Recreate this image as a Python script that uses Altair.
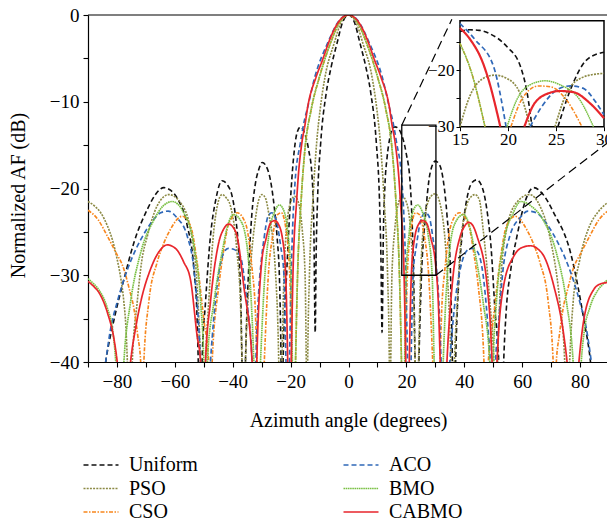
import altair as alt
import pandas as pd

# ---------------- data ----------------
METHODS = ["Uniform", "PSO", "CSO", "ACO", "BMO", "CABMO"]

UNIFORM = [
    (-88, -52), (-83.9, -40), (-81.0, -35.1), (-77.6, -30.5), (-74.1, -26.2), (-69.5, -22.4),
    (-66.5, -20.6), (-63.8, -19.9), (-61.5, -20.2), (-59.2, -21.1), (-55.7, -24.3), (-53.4, -29.3),
    (-52.3, -35.1), (-51.9, -40), (-51.2, -50),
    (-50.6, -40), (-49.4, -33.1), (-47.7, -25.5), (-45.8, -21.2), (-43.7, -19.1), (-41.8, -19.6),
    (-40.2, -20.9), (-38.9, -23.6), (-37.9, -27.4), (-37.2, -33.0), (-36.8, -40), (-36.2, -50),
    (-35.6, -40), (-34.5, -29.3), (-33.4, -23.0), (-32.2, -19.5), (-31.0, -17.8), (-29.8, -17.0),
    (-28.5, -17.4), (-27.0, -19.0), (-25.7, -22.0), (-24.7, -25.5), (-23.8, -31.0), (-23.3, -40), (-23.0, -50),
    (-22.6, -40), (-21.3, -29.3), (-20.1, -21.6), (-19.0, -16.5), (-17.8, -13.6), (-16.6, -12.9),
    (-15.3, -13.5), (-13.8, -15.5), (-12.6, -18.6), (-12.0, -24.0), (-11.5, -36.6),
    (-11.2, -28.0), (-10.7, -21.3), (-9.6, -14.7), (-7.7, -9.0), (-6.0, -6.0), (-4.0, -3.3), (-2.0, -0.8),
    (0, 0),
    (2.0, -0.8), (4.0, -3.3), (6.0, -6.0), (7.7, -9.0), (9.6, -14.7), (10.7, -21.3), (11.2, -28.0),
    (11.6, -36.6), (12.0, -26.0), (12.6, -19.5), (13.3, -16.5), (14.2, -14.3), (15.0, -13.2), (16.0, -12.9),
    (17.0, -13.0), (18.1, -13.6), (19.9, -15.9), (21.3, -19.4), (22.0, -24.1), (22.5, -30.0), (23.0, -40), (23.6, -50),
    (24.3, -40), (25.2, -30.0), (26.5, -23.5), (28.2, -18.2), (30.0, -16.85), (31.5, -17.3), (32.8, -19.2),
    (34.0, -23.0), (35.2, -29.5), (35.9, -40), (36.4, -50),
    (37.0, -40), (38.2, -30.0), (39.5, -24.5), (41.0, -21.0), (42.5, -19.4), (44.2, -19.0), (46.0, -19.7),
    (47.6, -22.0), (49.3, -27.0), (50.6, -34.0), (51.9, -40), (52.8, -50),
    (53.6, -40), (54.5, -34.0), (56.0, -29.5), (58.2, -25.5), (61.0, -21.5), (64.0, -19.9), (67.0, -20.6),
    (70.9, -22.8), (76.7, -27.4), (81.3, -35.1), (83.6, -40), (86.0, -50),
]

PSO = [
    (-90, -21.5), (-87.8, -22.0), (-85.6, -22.8), (-83.3, -24.3), (-81.5, -26.0), (-79.9, -28.2),
    (-78.6, -30.5), (-77.6, -33.1), (-76.9, -36.0), (-76.4, -40), (-75.5, -50),
    (-74.7, -40), (-73.0, -33.1), (-71.5, -28.5), (-69.5, -25.5), (-66.1, -22.0), (-62.1, -20.7),
    (-58.0, -21.65), (-54.6, -24.7), (-52.3, -31.2), (-51.1, -40), (-50.3, -50),
    (-49.4, -40), (-48.3, -33.1), (-46.5, -24.7), (-45.2, -21.8), (-43.7, -20.7), (-42.2, -21.1),
    (-40.8, -22.0), (-38.5, -27.4), (-37.3, -33.5), (-36.8, -40), (-36.2, -50),
    (-35.6, -40), (-33.9, -29.3), (-32.2, -23.6), (-31.0, -21.3), (-29.9, -20.7), (-28.7, -21.1),
    (-27.6, -22.8), (-25.3, -29.3), (-24.1, -40), (-23.6, -50),
    (-23.0, -40), (-22.3, -30.0), (-21.25, -24.1), (-19.9, -21.5), (-18.6, -20.9), (-17.4, -21.5),
    (-16.0, -24.7), (-15.0, -30.0), (-14.6, -40), (-14.35, -50),
    (-14.1, -40), (-13.5, -30.0), (-12.3, -21.3), (-11.0, -14.7), (-9.8, -10.9), (-8.1, -7.1),
    (-5.0, -3.3), (-2.5, -0.8), (0, 0),
    (2.5, -0.8), (5.0, -3.3), (8.1, -7.1), (9.8, -10.9), (11.0, -14.7), (12.3, -21.3), (13.5, -30.0),
    (14.1, -40), (14.35, -50), (14.6, -40), (15.0, -30.0), (16.0, -24.7), (17.4, -21.5), (18.6, -20.9),
    (19.9, -21.5), (21.25, -24.1), (22.3, -30.0), (23.0, -40), (23.6, -50),
    (24.2, -40), (24.9, -30.0), (26.5, -22.9), (28.5, -20.9), (30.0, -20.6), (32.0, -22.3), (33.9, -28.5),
    (35.0, -36.0), (35.4, -40), (35.9, -50),
    (36.6, -40), (37.6, -33.0), (38.5, -27.4), (40.8, -22.0), (42.2, -21.0), (43.7, -20.7), (45.2, -21.3),
    (46.5, -24.7), (48.8, -33.0), (50.2, -40), (50.8, -50),
    (51.5, -40), (52.5, -31.2), (54.6, -24.7), (58.0, -21.65), (62.5, -20.7), (66.1, -22.0), (69.5, -25.5),
    (73.0, -33.1), (74.7, -40), (75.5, -50),
    (76.4, -40), (77.6, -33.1), (79.9, -28.2), (83.3, -24.3), (86.0, -22.8), (88.5, -21.9), (90, -21.5),
]

CSO = [
    (-90, -22.5), (-86.5, -23.6), (-83.3, -25.5), (-80.5, -27.3), (-77.6, -29.3), (-75.8, -31.5),
    (-74.1, -33.9), (-72.8, -37.0), (-71.8, -40), (-71.2, -50),
    (-70.7, -40), (-69.0, -33.1), (-66.1, -28.5), (-63.8, -26.3), (-61.5, -24.7), (-57.5, -23.2),
    (-54.6, -24.3), (-52.3, -28.5), (-50.0, -35.1), (-48.3, -40), (-47.7, -50),
    (-47.1, -40), (-44.8, -31.2), (-43.3, -27.5), (-41.9, -24.7), (-40.2, -23.3), (-38.5, -22.8),
    (-35.6, -24.0), (-33.3, -29.3), (-32.2, -34.0), (-31.6, -40), (-30.4, -50),
    (-29.1, -40), (-28.6, -36.0), (-27.7, -30.0), (-26.1, -25.3), (-24.5, -23.0), (-23.2, -22.8),
    (-21.6, -24.7), (-20.3, -30.0), (-19.6, -40), (-18.95, -50),
    (-18.3, -40), (-17.6, -30.0), (-16.3, -21.0), (-15.0, -15.3), (-12.9, -10.9), (-10.0, -7.1),
    (-6.3, -3.3), (-3.0, -0.8), (0, 0),
    (3.0, -0.8), (6.3, -3.3), (10.0, -7.1), (12.9, -10.9), (15.0, -15.3), (16.3, -21.0), (17.6, -30.0),
    (18.3, -40), (18.95, -50), (19.6, -40), (20.3, -30.0), (21.6, -24.7), (23.2, -22.8), (24.5, -23.0),
    (26.1, -25.3), (27.7, -30.0), (28.6, -36.0), (29.1, -40), (30.4, -50),
    (31.6, -40), (32.2, -34.0), (33.3, -29.3), (35.6, -24.0), (38.3, -22.8), (40.2, -23.3), (41.9, -24.7),
    (43.3, -27.5), (44.8, -31.2), (46.8, -40), (47.5, -50),
    (48.3, -40), (50.0, -35.1), (52.3, -28.5), (54.6, -24.3), (57.5, -23.2), (61.5, -24.7), (63.8, -26.3),
    (66.1, -28.5), (69.0, -33.1), (70.7, -40), (71.2, -50),
    (71.8, -40), (72.8, -37.0), (74.1, -33.9), (75.8, -31.5), (77.6, -29.3), (80.5, -27.3), (83.3, -25.5),
    (86.5, -23.6), (90, -22.5),
]

ACO = [
    (-88, -52), (-83.9, -40), (-82.2, -36.2), (-80.0, -33.2), (-77.6, -30.5), (-74.8, -28.0),
    (-71.8, -25.9), (-68.5, -24.1), (-64.9, -22.8), (-62.3, -22.6), (-59.2, -23.4), (-55.7, -25.5),
    (-53.4, -29.3), (-51.7, -36.2), (-51.1, -40), (-49.4, -50),
    (-47.7, -40), (-45.4, -31.2), (-43.1, -27.4), (-41.5, -26.9), (-39.7, -27.0), (-37.4, -27.8),
    (-35.1, -33.1), (-33.3, -40), (-32.6, -50),
    (-32.0, -40), (-31.2, -33.0), (-30.0, -27.9), (-29.2, -25.8), (-27.8, -23.2), (-26.5, -22.8),
    (-25.1, -23.5), (-23.5, -26.5), (-22.3, -30.0), (-21.6, -40), (-21.0, -50),
    (-20.4, -40), (-19.8, -30.0), (-18.5, -19.4), (-16.6, -14.7), (-15.0, -11.8), (-14.3, -10.9),
    (-11.6, -7.1), (-7.3, -3.3), (-3.0, -0.55), (0, 0),
    (3.0, -0.55), (7.3, -3.3), (11.6, -7.1), (14.3, -10.9), (15.0, -11.8), (16.6, -14.7), (18.5, -19.4),
    (19.8, -30.0), (20.4, -40), (21.0, -50), (21.6, -40), (22.3, -30.0), (23.5, -26.5), (25.1, -23.5),
    (26.5, -22.8), (27.8, -23.2), (29.2, -25.8), (30.0, -27.9), (31.2, -33.0), (32.0, -40), (33.5, -50),
    (35.0, -40), (36.5, -34.0), (38.6, -29.3), (41.5, -27.0), (43.0, -26.9), (44.4, -27.2), (46.7, -30.5),
    (48.4, -37.0), (49.0, -40), (50.0, -50),
    (50.8, -40), (51.7, -36.2), (53.4, -29.3), (55.7, -25.5), (59.2, -23.4), (62.0, -22.6), (64.9, -22.8),
    (68.5, -24.1), (71.8, -25.9), (74.8, -28.0), (77.6, -30.5), (80.0, -33.2), (82.2, -36.2), (83.9, -40),
    (88, -52),
]

BMO = [
    (-90, -30.4), (-88.0, -31.0), (-86.2, -31.7), (-83.3, -33.8), (-81.5, -36.3), (-80.4, -40), (-79.0, -50),
    (-77.6, -40), (-75.3, -33.1), (-71.8, -27.4), (-67.2, -23.6), (-64.0, -22.0), (-60.9, -21.5),
    (-56.9, -22.8), (-53.4, -26.6), (-51.1, -33.1), (-50.0, -40), (-49.4, -50),
    (-48.8, -40), (-46.5, -33.1), (-43.7, -27.4), (-41.5, -24.0), (-39.7, -23.0), (-36.8, -24.0),
    (-34.5, -28.5), (-33.3, -35.0), (-32.7, -40), (-31.5, -50),
    (-30.4, -40), (-28.9, -30.0), (-27.5, -25.3), (-25.4, -22.6), (-23.9, -21.9), (-22.3, -22.6),
    (-20.9, -25.3), (-19.9, -30.0), (-19.4, -40), (-18.8, -50),
    (-18.3, -40), (-17.6, -30.0), (-16.3, -21.0), (-15.0, -15.3), (-12.9, -10.9), (-10.0, -7.1),
    (-6.3, -3.3), (-3.0, -0.8), (0, 0),
    (3.0, -0.8), (6.3, -3.3), (10.0, -7.1), (12.9, -10.9), (15.0, -15.3), (16.3, -21.0), (17.6, -30.0),
    (18.3, -40), (18.8, -50), (19.4, -40), (19.9, -30.0), (20.9, -25.3), (22.3, -22.6), (23.9, -21.9),
    (25.4, -22.6), (27.5, -25.3), (28.9, -30.0), (29.6, -40), (31.2, -50),
    (32.7, -40), (33.3, -35.0), (34.5, -28.5), (36.8, -24.0), (39.7, -23.0), (41.5, -24.0), (43.7, -27.4),
    (46.5, -33.1), (48.8, -40), (49.4, -50),
    (50.0, -40), (51.1, -33.1), (53.4, -26.6), (56.9, -22.8), (59.5, -21.5), (63.0, -22.0), (67.2, -23.6),
    (71.8, -27.4), (75.3, -33.1), (77.6, -40), (79.0, -50),
    (80.4, -40), (81.5, -36.3), (83.3, -33.8), (86.2, -31.7), (88.0, -31.0), (90, -30.4),
]

CABMO = [
    (-90, -30.7), (-88.0, -31.3), (-86.2, -32.0), (-83.3, -34.3), (-81.0, -37.4), (-79.9, -40), (-77.6, -50),
    (-75.3, -40), (-73.5, -36.0), (-71.8, -33.1), (-68.4, -29.3), (-65.5, -27.3), (-62.6, -26.5),
    (-59.5, -27.0), (-56.9, -28.5), (-54.6, -30.5), (-52.3, -37.0), (-51.1, -40), (-50.2, -50),
    (-49.4, -40), (-47.7, -33.1), (-44.8, -26.2), (-43.0, -24.6), (-41.4, -24.1), (-39.8, -24.5),
    (-38.5, -25.5), (-36.2, -31.2), (-33.3, -40), (-32.4, -50),
    (-31.7, -40), (-30.0, -28.5), (-28.5, -25.8), (-26.8, -23.9), (-25.4, -23.7), (-24.4, -24.0),
    (-22.8, -25.8), (-21.7, -30.0), (-21.0, -40), (-20.5, -50),
    (-19.8, -40), (-19.2, -30.0), (-17.9, -21.3), (-17.4, -18.8), (-16.1, -14.7), (-15.0, -12.6),
    (-14.25, -10.9), (-11.15, -7.1), (-9.0, -5.2), (-7.0, -3.3), (-5.0, -1.7), (-3.0, -0.6), (0, 0),
    (3.0, -0.6), (5.0, -1.7), (7.0, -3.3), (9.0, -5.2), (11.15, -7.1), (14.25, -10.9), (15.0, -12.6),
    (16.1, -14.7), (17.4, -18.8), (17.9, -21.3), (19.2, -30.0), (19.8, -40), (20.5, -50),
    (21.0, -40), (21.7, -30.0), (22.8, -25.8), (24.4, -24.0), (25.4, -23.7), (26.8, -23.9), (28.5, -25.8),
    (30.0, -28.5), (31.0, -33.0), (31.7, -40), (32.8, -50),
    (34.0, -40), (35.8, -31.2), (38.6, -25.5), (40.0, -24.4), (41.5, -23.9), (43.0, -24.3), (44.4, -25.5),
    (47.9, -31.2), (49.6, -40), (50.5, -50),
    (51.3, -40), (53.6, -31.2), (57.1, -27.8), (60.0, -26.8), (62.9, -26.6), (65.5, -27.0), (67.5, -27.8),
    (70.9, -31.2), (74.4, -37.0), (75.5, -40), (77.5, -50),
    (79.6, -40), (81.3, -35.1), (84.8, -31.6), (87.0, -31.0), (89.4, -30.8), (90, -30.7),
]

SERIES = {"Uniform": UNIFORM, "PSO": PSO, "CSO": CSO, "ACO": ACO, "BMO": BMO, "CABMO": CABMO}

# axis ticks / ranges
X_DOMAIN = [-90, 89.3]
Y_DOMAIN = [-40, 0]
X_TICKS = list(range(-90, 90, 10))
Y_TICKS = list(range(-40, 1, 5))
INSET_X = [15, 30]
INSET_Y = [-30, -11.3]
INSET_X_TICKS = [15, 20, 25, 30]
INSET_Y_TICKS = [-30, -25, -20, -15]
ZOOM_BOX_X = [18.4, 30.2]
ZOOM_BOX_Y = [-30, -12.7]
CONNECT_FROM = [(18.4, -12.7), (30.2, -30.0)]
CONNECT_TO = [(35.7, -0.5), (89.2, -14.8)]

# ---------------- styling ----------------
COLORS = {"Uniform": "#111111", "PSO": "#8c8a45", "CSO": "#f7861d",
          "ACO": "#2f68b8", "BMO": "#79c043", "CABMO": "#e8262c"}
DASHES = {"Uniform": [5, 3], "PSO": [2, 1.2], "CSO": [4, 1.5, 1.5, 1.5],
          "ACO": [5, 3], "BMO": [1.6, 0.6], "CABMO": [1, 0]}
WIDTHS = {"Uniform": 1.6, "PSO": 1.7, "CSO": 1.5, "ACO": 1.7, "BMO": 1.5, "CABMO": 2.2}

FONT = "Liberation Serif"
PLOT_W, PLOT_H = 519, 347
INSET_PX = [372, 516]
INSET_PY = [111.7, 5.7]

rows = []
for m in METHODS:
    for d, v in SERIES[m]:
        rows.append({"method": m, "deg": d, "db": v})
df = pd.DataFrame(rows)

# inset data: keep the part inside the inset window, split into segments
irows = []
for m in METHODS:
    seg = 0
    inside_prev = False
    for d, v in SERIES[m]:
        inside = INSET_X[0] <= d <= INSET_X[1] and v >= INSET_Y[0]
        if inside:
            if not inside_prev:
                seg += 1
            irows.append({"method": m, "deg": d, "db": v, "seg": seg})
        inside_prev = inside
dfi = pd.DataFrame(irows)

xs = alt.Scale(domain=X_DOMAIN, nice=False, zero=False)
ys = alt.Scale(domain=Y_DOMAIN, nice=False, zero=False)

x_axis = alt.Axis(values=X_TICKS, orient="bottom",
                  labelExpr="(datum.value % 20 === 0 && datum.value > -90) ? datum.label : ''",
                  title="Azimuth angle (degrees)", titleX=260, titleY=58, titleBaseline="middle",
                  titleAlign="center", titleFont=FONT, titleFontSize=20, titleFontWeight="normal",
                  titleColor="black", labelFont=FONT, labelFontSize=19, labelColor="black",
                  labelPadding=5, tickSize=5, tickColor="black", domainColor="black",
                  domainWidth=1.2, tickWidth=1.1, grid=False, labelFlush=False, labelOverlap=False)
y_axis = alt.Axis(values=Y_TICKS, orient="left",
                  labelExpr="datum.value % 10 === 0 ? datum.label : ''",
                  title="Normalized AF (dB)", titleX=-70, titleY=180, titleAngle=-90,
                  titleBaseline="middle", titleAlign="center", titleFont=FONT, titleFontSize=20,
                  titleFontWeight="normal", titleColor="black", labelFont=FONT, labelFontSize=19,
                  labelColor="black", labelPadding=4, tickSize=5, tickColor="black",
                  domainColor="black", domainWidth=1.2, tickWidth=1.1, grid=False,
                  labelFlush=False, labelOverlap=False)

legend = alt.Legend(title=None, orient="none", legendX=3, legendY=440, columns=2,
                    columnPadding=142, rowPadding=3.5, symbolType="M-3.5,0H3.5", symbolSize=100,
                    labelFont=FONT, labelFontSize=20, labelColor="black", labelOffset=18,
                    padding=0, symbolFillColor="transparent")

col_scale = alt.Scale(domain=METHODS, range=[COLORS[m] for m in METHODS])
dash_scale = alt.Scale(domain=METHODS, range=[DASHES[m] for m in METHODS])
width_scale = alt.Scale(domain=METHODS, range=[WIDTHS[m] for m in METHODS])

layers = []
for i, m in enumerate(METHODS):
    layers.append(
        alt.Chart(df[df.method == m]).mark_line(clip=True, interpolate="monotone").encode(
            x=alt.X("deg:Q", scale=xs, axis=x_axis if i == 0 else None),
            y=alt.Y("db:Q", scale=ys, axis=y_axis if i == 0 else None),
            color=alt.Color("method:N", scale=col_scale, legend=legend),
            strokeDash=alt.StrokeDash("method:N", scale=dash_scale, legend=legend),
            strokeWidth=alt.StrokeWidth("method:N", scale=width_scale, legend=legend),
        )
    )

layers.append(alt.Chart(pd.DataFrame({"db": [Y_DOMAIN[1]]})).mark_rule(
    color="black", strokeWidth=1.2).encode(
    y=alt.Y("db:Q", scale=ys, axis=None), x=alt.value(0), x2=alt.value(PLOT_W)))

layers.append(alt.Chart(pd.DataFrame({"x": [ZOOM_BOX_X[0]], "x2": [ZOOM_BOX_X[1]],
                                      "y": [ZOOM_BOX_Y[0]], "y2": [ZOOM_BOX_Y[1]]})).mark_rect(
    fillOpacity=0, stroke="black", strokeWidth=1.3).encode(
    x=alt.X("x:Q", scale=xs, axis=None), x2="x2:Q",
    y=alt.Y("y:Q", scale=ys, axis=None), y2="y2:Q"))

layers.append(alt.Chart(pd.DataFrame({
    "x": [p[0] for p in CONNECT_FROM], "y": [p[1] for p in CONNECT_FROM],
    "x2": [p[0] for p in CONNECT_TO], "y2": [p[1] for p in CONNECT_TO]})).mark_rule(
    color="black", strokeWidth=1.2, strokeDash=[9, 5], clip=False).encode(
    x=alt.X("x:Q", scale=xs, axis=None), x2="x2:Q",
    y=alt.Y("y:Q", scale=ys, axis=None), y2="y2:Q"))

ixs = alt.Scale(domain=INSET_X, range=INSET_PX, nice=False, zero=False)
iys = alt.Scale(domain=INSET_Y, range=INSET_PY, nice=False, zero=False)

ix_axis = alt.Axis(values=INSET_X_TICKS, orient="bottom", offset=-(PLOT_H - INSET_PY[0]),
                   title=None, domain=False, labelFont=FONT, labelFontSize=17, labelColor="black",
                   tickSize=4, tickColor="black", labelPadding=1, grid=False, zindex=2,
                   labelFlush=False, labelOverlap=False)
iy_axis = alt.Axis(values=INSET_Y_TICKS, orient="left", offset=-INSET_PX[0],
                   labelExpr="datum.value % 10 === 0 ? datum.label : ''",
                   title=None, domain=False, labelFont=FONT, labelFontSize=17, labelColor="black",
                   tickSize=4, tickColor="black", labelPadding=2, grid=False, zindex=2,
                   labelFlush=False, labelOverlap=False)

layers.append(alt.Chart(pd.DataFrame({"x": [INSET_X[0]], "x2": [INSET_X[1]],
                                      "y": [INSET_Y[0]], "y2": [INSET_Y[1]]})).mark_rect(
    fill="white", stroke="black", strokeWidth=1.5).encode(
    x=alt.X("x:Q", scale=ixs, axis=ix_axis), x2="x2:Q",
    y=alt.Y("y:Q", scale=iys, axis=iy_axis), y2="y2:Q"))

for m in METHODS:
    layers.append(
        alt.Chart(dfi[dfi.method == m]).mark_line(interpolate="monotone", clip=False).encode(
            x=alt.X("deg:Q", scale=ixs, axis=None),
            y=alt.Y("db:Q", scale=iys, axis=None),
            detail="seg:N",
            color=alt.value(COLORS[m]),
            strokeDash=alt.value(DASHES[m]),
            strokeWidth=alt.value(WIDTHS[m]),
        )
    )

chart = alt.layer(*layers).resolve_scale(x="independent", y="independent").properties(
    width=PLOT_W, height=PLOT_H,
    autosize=alt.AutoSizeParams(type="none"),
    padding={"left": 88, "top": 15, "right": 0, "bottom": 159},
    background="white",
).configure_view(stroke=None)

chart.save("out.html", embed_options={"renderer": "svg", "actions": False})
